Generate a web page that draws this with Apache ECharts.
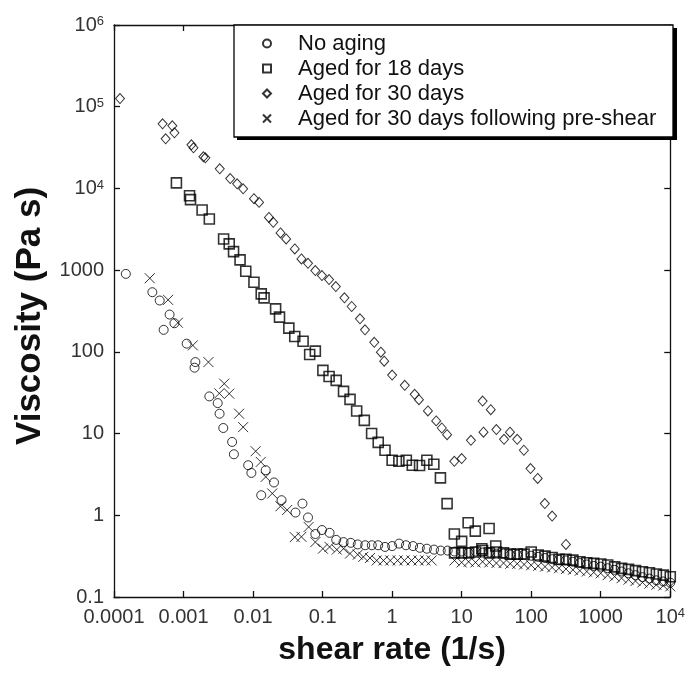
<!DOCTYPE html>
<html>
<head>
<meta charset="utf-8">
<script src="https://cdn.jsdelivr.net/npm/echarts@6/dist/echarts.min.js"></script>
<style>
html,body{margin:0;padding:0;background:#fff;}
#chart{width:688px;height:675px;}
</style>
</head>
<body>
<div id="chart"></div>
<script>
// ---- data ----
const seriesNames = ['No aging', 'Aged for 18 days', 'Aged for 30 days', 'Aged for 30 days following pre-shear'];

const noAgingX = [1.48e-4,3.56e-4,4.54e-4,5.18e-4,6.3e-4,7.4e-4,1.11e-3,1.44e-3,1.48e-3,2.35e-3,3.1e-3,3.3e-3,3.73e-3,5.0e-3,5.3e-3,8.5e-3,9.46e-3,0.0131,0.0152,0.02,0.0257,0.0407,0.0513,0.0617,0.0786,0.098,0.126,0.157,0.2,0.254,0.32,0.41,0.51,0.63,0.79,1.0,1.26,1.58,2.0,2.5,3.16,4.0,5.0,6.3,7.9,10,12.6,15.8,20,25,31.6,40,50,63,79,100,126,158,200,251,316,398,501,631,794,1000,1259,1585,1995,2512,3162,3981,5012,6310,7943,10000];
const noAgingY = [900,537,425,186,286,224,126,64,75,28.5,23.6,17.5,11.7,7.9,5.58,4.1,3.3,1.76,3.56,2.52,1.53,1.08,1.39,0.94,0.59,0.66,0.61,0.50,0.47,0.46,0.44,0.43,0.43,0.43,0.41,0.42,0.45,0.43,0.42,0.40,0.39,0.38,0.37,0.37,0.36,0.36,0.35,0.36,0.35,0.35,0.34,0.34,0.33,0.33,0.33,0.32,0.31,0.30,0.29,0.285,0.28,0.27,0.26,0.25,0.24,0.235,0.225,0.215,0.205,0.195,0.185,0.175,0.168,0.16,0.155,0.15];

const aged18X = [7.9e-4,1.22e-3,1.26e-3,1.85e-3,2.35e-3,3.77e-3,4.54e-3,5.24e-3,6.5e-3,7.85e-3,0.0103,0.0131,0.0144,0.0211,0.024,0.0327,0.0398,0.0524,0.0652,0.0786,0.101,0.124,0.157,0.2,0.248,0.309,0.398,0.507,0.631,0.79,1.0,1.25,1.6,1.95,2.48,3.16,3.98,4.95,6.17,7.85,10,12.4,15.7,19.5,24.8,30.9,
  7.9,10,12.6,15.8,20,25,31.6,40,50,63,79,100,126,158,200,251,316,398,501,631,794,1000,1259,1585,1995,2512,3162,3981,5012,6310,7943,10000];
const aged18Y = [11700,8150,7300,5440,4230,2410,2094,1686,1335,968,711,513,458,336,266,195,154,135,93,102,59.3,50,44.8,32.8,26.2,18.9,14.5,10,7.8,6.25,4.72,4.58,4.72,4.1,4.07,4.72,4.22,2.87,1.39,0.59,0.48,0.81,0.64,0.39,0.69,0.42,
  0.347,0.347,0.347,0.355,0.37,0.347,0.355,0.347,0.335,0.335,0.335,0.355,0.326,0.316,0.305,0.289,0.289,0.283,0.27,0.262,0.258,0.253,0.246,0.234,0.224,0.218,0.21,0.204,0.198,0.191,0.185,0.177];

const aged30X = [1.22e-4,5.0e-4,5.53e-4,6.9e-4,7.4e-4,1.3e-3,1.39e-3,1.93e-3,2.06e-3,3.32e-3,4.69e-3,5.9e-3,7.2e-3,0.0103,0.0122,0.0169,0.0195,0.0248,0.0299,0.0398,0.0496,0.0617,0.0786,0.0978,0.124,0.155,0.206,0.262,0.345,0.407,0.553,0.689,0.769,1.0,1.52,2.11,2.43,3.27,4.3,5.18,6.17,7.85,10,13.6,20,20.6,26.2,31.6,40.7,49.5,63,78.5,97.8,124,157,200,316];
const aged30Y = [1.26e5,6.17e4,4.05e4,5.83e4,4.79e4,3.42e4,3.14e4,2.44e4,2.37e4,1.74e4,1.32e4,1.14e4,9900,7500,6750,4420,3845,2850,2410,1816,1372,1213,988,859,767,630,458,359,254,186,131,99,77,52,38.9,30.2,26,18.9,14.3,11.7,9.7,4.58,4.94,8.28,25,10.4,19.6,11.2,8.5,10.4,8.5,6.25,3.73,2.82,1.39,0.98,0.44];

const preShearX = [3.27e-4,6.0e-4,8.3e-4,1.36e-3,2.28e-3,3.27e-3,3.85e-3,4.54e-3,6.3e-3,7.2e-3,0.0109,0.0129,0.0152,0.0189,0.0248,0.0309,0.0398,0.0496,0.063,0.0786,0.101,0.126,0.16,0.2,0.248,0.32,0.385,0.48,0.6,0.75,0.94,1.2,1.5,1.9,2.4,3.0,3.7,7.9,10,12.6,15.8,20,25,31.6,40,50,63,79,100,126,158,200,251,316,398,501,631,794,1000,1259,1585,1995,2512,3162,3981,5012,6310,7943,10000];
const preShearY = [796,433,227,120,75,31,40.8,30.8,17.5,12,6.08,4.5,2.95,1.85,1.29,1.16,0.54,0.545,0.72,0.47,0.39,0.41,0.38,0.39,0.34,0.33,0.31,0.30,0.28,0.28,0.28,0.28,0.28,0.28,0.28,0.28,0.28,0.28,0.265,0.27,0.265,0.27,0.265,0.26,0.26,0.255,0.255,0.25,0.245,0.24,0.235,0.23,0.225,0.22,0.215,0.21,0.205,0.2,0.195,0.185,0.178,0.17,0.163,0.157,0.151,0.146,0.141,0.138,0.135];

// tick labels keyed by decade exponent
const xTickExp = [-4,-3,-2,-1,0,1,2,3,4];
const xTickLabels = ['0.0001','0.001','0.01','0.1','1','10','100','1000','{b|10}{s|4}'];
const yTickExp = [-1,0,1,2,3,4,5,6];
const yTickLabels = ['0.1','1','10','100','1000','{b|10}{s|4}','{b|10}{s|5}','{b|10}{s|6}'];

// ---- chart ----
const FONT = '"Liberation Sans", Arial, Helvetica, sans-serif';
function zip(xs, ys){ return xs.map((x,i)=>[x, ys[i]]); }
function labelFor(exps, labels){
  return function(v){
    const e = Math.round(Math.log10(v));
    const i = exps.indexOf(e);
    return i >= 0 ? labels[i] : '';
  };
}
const rich = {
  b: {fontSize: 20, fontFamily: FONT, color: '#333', lineHeight: 20},
  s: {fontSize: 13, fontFamily: FONT, color: '#333', verticalAlign: 'top', lineHeight: 13, padding: [0,0,9,0]}
};
const axisLine = {show: true, lineStyle: {color: '#111', width: 1.3}};
const axisTick = {show: true, inside: true, length: 6, lineStyle: {color: '#111', width: 1.3}};

const hollow = {color: 'rgba(0,0,0,0)', borderColor: '#000', borderWidth: 1};
const crossPath = 'path://M0,0L10,10M10,0L0,10';

const chart = echarts.init(document.getElementById('chart'), null, {renderer: 'canvas'});
chart.setOption({
  animation: false,
  backgroundColor: '#fff',
  grid: {left: 114, right: 15, top: 25, bottom: 78},
  xAxis: [
    {type: 'log', logBase: 10, min: 1e-4, max: 1e4, splitNumber: 8, position: 'bottom',
     axisLine, axisTick, splitLine: {show: false}, minorTick: {show: false},
     axisLabel: {show: true, margin: 10, fontSize: 20, fontFamily: FONT, color: '#333',
       formatter: labelFor(xTickExp, xTickLabels), rich},
     name: 'shear rate (1/s)', nameLocation: 'middle', nameGap: 28,
     nameTextStyle: {fontSize: 32, fontWeight: 'bold', fontFamily: FONT, color: '#111'}},
    {type: 'log', logBase: 10, min: 1e-4, max: 1e4, splitNumber: 8, position: 'top',
     axisLine, axisTick, splitLine: {show: false}, axisLabel: {show: false}}
  ],
  yAxis: [
    {type: 'log', logBase: 10, min: 0.1, max: 1e6, splitNumber: 7, position: 'left',
     axisLine, axisTick, splitLine: {show: false}, minorTick: {show: false},
     axisLabel: {show: true, margin: 10, fontSize: 20, fontFamily: FONT, color: '#333',
       formatter: labelFor(yTickExp, yTickLabels), rich},
     name: 'Viscosity (Pa s)', nameLocation: 'middle', nameGap: 66, nameRotate: 90,
     nameTextStyle: {fontSize: 35, fontWeight: 'bold', fontFamily: FONT, color: '#111', padding: [0,0,0,-10]}},
    {type: 'log', logBase: 10, min: 0.1, max: 1e6, splitNumber: 7, position: 'right',
     axisLine, axisTick, splitLine: {show: false}, axisLabel: {show: false}}
  ],
  graphic: [
    {type: 'rect', z: 50, shape: {x: 237, y: 28, width: 440, height: 112}, style: {fill: '#000'}},
    {type: 'rect', z: 51, shape: {x: 234, y: 25, width: 439, height: 112}, style: {fill: '#fff', stroke: '#000', lineWidth: 1.3}}
  ],
  legend: {
    z: 60, orient: 'vertical', left: 262, top: 31, padding: 0, itemGap: 0,
    itemWidth: 8, itemHeight: 8,
    textStyle: {fontSize: 22, fontFamily: FONT, color: '#111', lineHeight: 25, padding: [0,0,0,22]},
    data: seriesNames
  },
  series: [
    {name: seriesNames[0], type: 'scatter', symbol: 'circle', symbolSize: 9,
     itemStyle: hollow, data: zip(noAgingX, noAgingY)},
    {name: seriesNames[1], type: 'scatter', symbol: 'rect', symbolSize: 10,
     itemStyle: {color: 'rgba(0,0,0,0)', borderColor: '#000', borderWidth: 1.6}, data: zip(aged18X, aged18Y)},
    {name: seriesNames[2], type: 'scatter', symbol: 'diamond', symbolSize: [9, 10],
     itemStyle: hollow, data: zip(aged30X, aged30Y)},
    {name: seriesNames[3], type: 'scatter', symbol: crossPath, symbolSize: 10,
     itemStyle: hollow, data: zip(preShearX, preShearY)}
  ]
});
</script>
</body>
</html>
